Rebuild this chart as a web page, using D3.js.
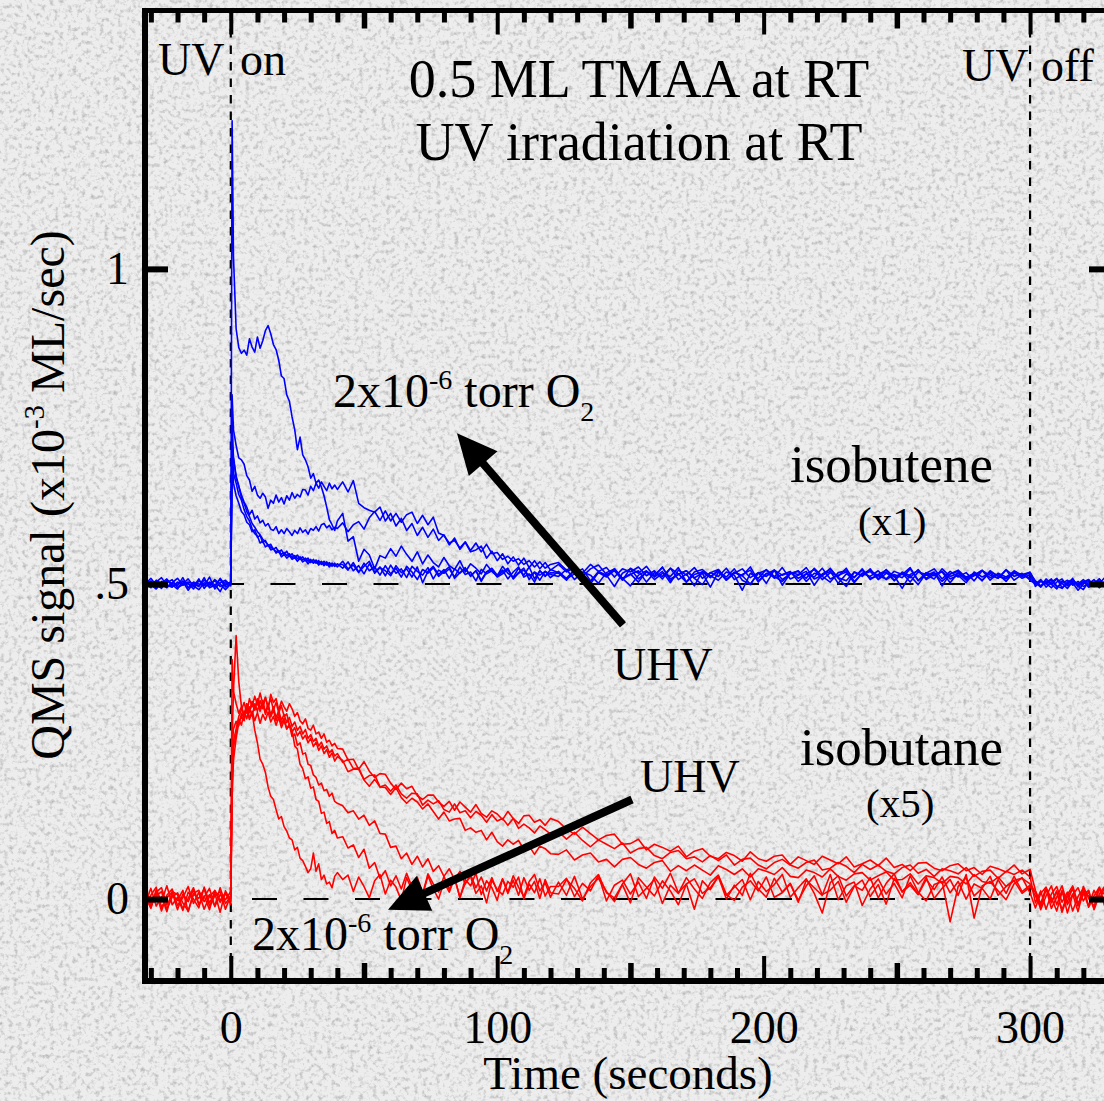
<!DOCTYPE html>
<html>
<head>
<meta charset="utf-8">
<script src="https://cdnjs.cloudflare.com/ajax/libs/d3/7.8.5/d3.min.js"></script>
<style>
  html, body { margin: 0; padding: 0; background: #e8e8e8; overflow: hidden; }
  svg { display: block; }
  text { font-family: "Liberation Serif", "Times New Roman", Times, serif; fill: #000; }
</style>
</head>
<body>
<svg id="chart" width="1104" height="1101"></svg>
<script>
// ---------------------------------------------------------------------------
// Sampling times (s) shared by every QMS run. UV lamp on at 0 s, off at 300 s.
// ---------------------------------------------------------------------------
const timeSec = [
  -32,-30,-28,-26,-24,-22,-20,-18,-16,-14,-12,-10,-8,-6,-4,-2,0,
  0.5,1,2,3,4,5,6,7,8,9,
  10,11,12,13,14,15,16,17,18,19,
  20,21,22,23,24,25,26,27,28,29,
  30,31,32,33,34,35,36,37,38,39,
  40,
  42,44,46,48,50,52,54,56,58,60,
  62,64,66,68,70,72,74,76,78,80,
  82,84,86,88,90,92,94,96,98,100,
  102,104,106,108,110,112,114,116,118,120,
  123,126,129,132,135,138,141,144,147,150,
  153,156,159,162,165,168,171,174,177,180,
  183,186,189,192,195,198,201,204,207,210,
  213,216,219,222,225,228,231,234,237,240,
  243,246,249,252,255,258,261,264,267,270,
  273,276,279,282,285,288,291,294,297,300,
  302,304,306,308,310,312,314,316,318,320,322,324,326,328,330
];

// Isobutene signal (x1), offset by +0.5; units 1e-3 ML/s
const isobuteneRunA = [ // 2x10^-6 torr O2
  .503,.497,.506,.500,.494,.502,.509,.498,.501,.492,
  .505,.499,.496,.507,.500,.491,.500,
  1.235,1.02,.905,.875,.866,.871,.863,.889,.876,.868,
  .892,.874,.886,.902,.910,.897,.880,.872,.855,.830,
  .826,.800,.790,.765,.745,.713,.733,.705,.697,.686,
  .668,.675,.660,.665,.654,.640,.622,.602,.594,.585,
  .600,
  .612,.568,.575,.536,.555,.546,.524,.545,.541,.556,
  .544,.560,.547,.536,.551,.532,.546,.534,.527,.542,
  .529,.523,.537,.519,.532,.525,.516,.531,.520,.513,
  .528,.517,.511,.525,.514,.527,.508,.521,.512,.523,
  .518,.509,.523,.512,.504,.520,.514,.496,.517,.524,
  .508,.519,.513,.527,.505,.516,.521,.509,.499,.518,
  .512,.525,.507,.515,.522,.503,.517,.511,.526,.508,
  .514,.520,.498,.516,.523,.510,.505,.519,.512,.524,
  .507,.517,.513,.493,.515,.521,.509,.518,.504,.516,
  .520,.508,.514,.522,.506,.517,.511,.519,.509,.515,
  .504,.496,.508,.500,.492,.505,.498,.509,.495,.503,.507,.496,.501,.510,.498
];
const isobuteneRunB = [
  .498,.505,.493,.501,.508,.496,.500,.504,.490,.502,
  .497,.506,.501,.495,.509,.498,.502,
  .800,.745,.720,.700,.697,.690,.672,.665,.647,.655,
  .641,.636,.644,.638,.620,.633,.628,.641,.630,.637,
  .627,.640,.633,.645,.636,.642,.638,.650,.649,.641,
  .655,.648,.660,.652,.662,.655,.648,.660,.651,.657,
  .650,
  .662,.646,.664,.628,.621,.617,.614,.622,.600,.612,
  .592,.604,.585,.596,.577,.590,.574,.587,.569,.578,
  .562,.573,.555,.566,.551,.554,.560,.541,.552,.537,
  .548,.532,.543,.530,.541,.526,.537,.524,.534,.522,
  .531,.519,.527,.512,.524,.530,.515,.521,.506,.525,
  .517,.528,.511,.520,.502,.522,.514,.526,.509,.518,
  .523,.507,.519,.513,.527,.505,.516,.522,.498,.517,
  .520,.509,.525,.512,.503,.518,.521,.510,.524,.507,
  .515,.522,.506,.519,.513,.499,.517,.524,.508,.520,
  .511,.518,.505,.521,.514,.509,.523,.512,.517,.506,
  .500,.507,.495,.503,.509,.494,.501,.505,.497,.491,.504,.499,.508,.496,.502
];
const isobuteneRunC = [
  .501,.494,.503,.510,.497,.499,.492,.505,.500,.496,
  .508,.493,.503,.499,.488,.504,.499,
  .760,.700,.672,.655,.641,.630,.622,.610,.617,.603,
  .608,.597,.601,.592,.596,.587,.585,.591,.580,.586,
  .580,.588,.583,.577,.585,.580,.589,.582,.586,.579,
  .588,.585,.591,.584,.594,.596,.589,.593,.586,.590,
  .588,
  .597,.583,.594,.599,.587,.605,.615,.601,.616,.600,
  .612,.598,.610,.614,.596,.609,.594,.606,.581,.577,
  .565,.569,.557,.567,.553,.565,.551,.563,.548,.550,
  .539,.544,.536,.540,.531,.537,.527,.535,.525,.531,
  .534,.522,.529,.517,.531,.520,.526,.511,.524,.519,
  .527,.513,.521,.508,.525,.516,.503,.519,.523,.512,
  .520,.506,.517,.524,.510,.518,.501,.522,.514,.519,
  .509,.516,.523,.507,.518,.512,.525,.504,.517,.521,
  .513,.508,.520,.515,.526,.506,.514,.519,.497,.516,
  .522,.510,.517,.505,.519,.513,.509,.521,.514,.510,
  .502,.495,.505,.499,.508,.501,.493,.504,.500,.507,.497,.503,.494,.501,.505
];
const isobuteneRunD = [
  .495,.502,.499,.493,.506,.501,.497,.510,.494,.503,
  .500,.497,.511,.492,.502,.506,.497,
  .720,.676,.660,.642,.633,.618,.607,.600,.588,.580,
  .576,.565,.568,.559,.562,.554,.556,.549,.552,.543,
  .547,.541,.545,.539,.542,.536,.541,.535,.538,.532,
  .537,.533,.536,.530,.535,.529,.533,.527,.532,.528,
  .531,
  .531,.522,.534,.519,.528,.536,.517,.526,.521,.513,
  .529,.518,.524,.511,.527,.502,.520,.528,.515,.523,
  .509,.524,.517,.526,.512,.521,.506,.519,.525,.514,
  .522,.508,.519,.527,.511,.516,.503,.521,.513,.518,
  .517,.506,.522,.511,.500,.519,.513,.524,.508,.515,
  .521,.503,.518,.512,.525,.507,.516,.497,.520,.513,
  .506,.519,.514,.490,.517,.509,.523,.512,.504,.518,
  .515,.526,.508,.514,.520,.501,.516,.511,.522,.509,
  .513,.519,.505,.517,.510,.523,.507,.515,.519,.502,
  .518,.511,.516,.506,.521,.512,.508,.517,.513,.519,
  .499,.505,.501,.494,.503,.508,.497,.502,.490,.500,.506,.498,.504,.495,.501
];
const isobuteneRunE = [
  .507,.499,.492,.504,.498,.495,.503,.500,.508,.497,
  .491,.502,.499,.505,.496,.500,.503,
  .700,.660,.640,.628,.615,.610,.598,.594,.583,.586,
  .574,.577,.566,.569,.560,.563,.555,.558,.550,.554,
  .547,.552,.544,.548,.541,.546,.539,.543,.537,.541,
  .534,.539,.533,.537,.531,.536,.530,.534,.528,.533,
  .527,
  .536,.524,.530,.518,.533,.521,.527,.514,.529,.516,
  .525,.511,.528,.519,.507,.523,.517,.526,.512,.520,
  .527,.509,.518,.524,.513,.521,.504,.519,.522,.511,
  .516,.523,.509,.518,.525,.507,.519,.514,.520,.510,
  .520,.508,.516,.524,.505,.518,.511,.522,.509,.497,
  .514,.521,.507,.517,.512,.526,.503,.515,.519,.510,
  .523,.506,.518,.513,.500,.517,.522,.509,.515,.520,
  .504,.516,.511,.525,.508,.514,.519,.502,.517,.512,
  .521,.507,.515,.510,.524,.505,.518,.513,.520,.508,
  .514,.502,.519,.511,.517,.509,.522,.506,.515,.518,
  .505,.497,.502,.508,.495,.501,.506,.498,.504,.496,.500,.507,.497,.503,.499
];
const isobuteneRunF = [ // UHV
  .500,.509,.498,.496,.502,.507,.494,.499,.503,.500,
  .496,.510,.494,.498,.507,.495,.500,
  .690,.700,.668,.655,.637,.628,.615,.607,.596,.590,
  .583,.578,.571,.567,.562,.558,.556,.551,.553,.547,
  .550,.545,.548,.542,.545,.540,.543,.538,.541,.536,
  .539,.534,.538,.533,.536,.531,.535,.530,.533,.529,
  .532,
  .525,.535,.521,.529,.516,.532,.519,.527,.513,.530,
  .517,.524,.510,.528,.520,.514,.526,.508,.522,.517,
  .524,.511,.527,.515,.519,.505,.523,.516,.521,.512,
  .519,.525,.508,.517,.522,.513,.518,.506,.520,.515,
  .512,.523,.507,.519,.514,.501,.518,.524,.509,.516,
  .503,.520,.513,.526,.508,.515,.521,.510,.517,.495,
  .519,.511,.524,.506,.499,.518,.512,.522,.507,.516,
  .521,.504,.517,.513,.525,.509,.496,.519,.514,.520,
  .508,.523,.511,.517,.503,.519,.515,.508,.524,.512,
  .517,.506,.513,.521,.510,.516,.504,.519,.512,.518,
  .496,.504,.500,.506,.497,.493,.503,.507,.498,.504,.495,.501,.508,.497,.503
];

// Isobutane signal (x5); units 1e-3 ML/s
const isobutaneRunA = [ // UHV
  .008,-.012,.015,-.004,.021,-.009,.003,-.018,.011,.000,
  -.014,.019,-.006,.009,-.021,.013,-.003,
  .200,.250,.270,.290,.300,.312,.295,.318,.305,.322,
  .308,.327,.310,.320,.302,.325,.312,.318,.300,.314,
  .305,.298,.310,.302,.290,.296,.283,.278,.286,.271,
  .268,.276,.262,.265,.255,.262,.249,.252,.243,.247,
  .239,
  .238,.221,.222,.206,.218,.203,.193,.199,.198,.184,
  .174,.184,.175,.179,.164,.158,.165,.165,.154,.147,
  .155,.141,.154,.146,.138,.150,.136,.130,.140,.135,
  .126,.139,.128,.120,.132,.133,.122,.126,.117,.128,
  .123,.111,.103,.114,.104,.094,.101,.103,.087,.088,
  .095,.078,.087,.082,.076,.084,.067,.076,.080,.068,
  .064,.074,.069,.060,.075,.064,.060,.068,.070,.055,
  .067,.061,.055,.068,.062,.056,.067,.051,.056,.062,
  .053,.065,.050,.055,.045,.057,.058,.049,.045,.053,
  .056,.045,.050,.039,.052,.048,.043,.054,.040,.047,
  .014,-.010,.018,-.004,.011,-.017,.007,.021,-.008,.012,-.013,.005,.019,-.009,.009
];
const isobutaneRunB = [
  -.006,.017,-.011,.004,-.020,.012,.007,-.015,.001,.018,
  -.008,.005,-.017,.014,-.002,.010,-.009,
  .160,.220,.255,.280,.290,.283,.305,.296,.312,.300,
  .318,.302,.315,.296,.310,.292,.305,.288,.299,.284,
  .293,.280,.288,.274,.281,.268,.274,.262,.269,.255,
  .261,.250,.255,.243,.249,.238,.243,.232,.237,.227,
  .231,
  .217,.222,.207,.208,.190,.196,.197,.178,.181,.171,
  .181,.167,.160,.168,.167,.149,.157,.151,.156,.142,
  .138,.151,.137,.140,.129,.139,.133,.122,.134,.124,
  .128,.117,.128,.112,.119,.113,.105,.116,.110,.103,
  .107,.095,.106,.093,.083,.094,.087,.080,.089,.073,
  .080,.082,.069,.064,.074,.077,.064,.067,.059,.069,
  .061,.070,.054,.063,.065,.054,.048,.058,.063,.054,
  .049,.058,.062,.046,.049,.058,.052,.042,.055,.047,
  .054,.044,.040,.050,.054,.041,.047,.036,.048,.045,
  .040,.050,.036,.044,.046,.033,.044,.039,.046,.035,
  -.006,.013,-.016,.008,.020,-.005,.011,-.019,.004,.017,-.011,.014,-.003,.019,-.012
];
const isobutaneRunC = [
  .014,-.003,.009,-.019,.006,.016,-.010,.002,.020,-.007,
  .011,-.016,.004,.013,-.005,.008,.001,
  .240,.270,.282,.275,.295,.288,.302,.285,.298,.283,
  .296,.279,.293,.284,.297,.281,.290,.276,.288,.272,
  .283,.270,.278,.265,.272,.259,.266,.254,.260,.248,
  .255,.242,.249,.236,.243,.231,.237,.225,.232,.219,
  .226,
  .220,.202,.206,.206,.189,.179,.190,.178,.177,.166,
  .177,.161,.152,.160,.154,.143,.151,.139,.127,.138,
  .124,.127,.128,.109,.113,.106,.109,.094,.106,.091,
  .084,.094,.087,.093,.079,.084,.071,.084,.080,.072,
  .071,.078,.062,.070,.073,.059,.063,.051,.063,.066,
  .055,.049,.058,.061,.044,.053,.045,.054,.046,.038,
  .053,.047,.039,.048,.035,.048,.044,.039,.050,.036,
  .034,.046,.042,.035,.048,.036,.030,.040,.042,.030,
  .037,.043,.030,.031,.040,.024,.037,.034,.025,.036,
  .034,.024,.039,.028,.025,.035,.020,.030,.033,.024,
  .011,-.017,.005,.021,-.009,.014,-.022,.007,.018,-.003,.012,-.015,.008,.020,-.006
];
const isobutaneRunD = [
  -.010,.006,.019,-.013,.002,.011,-.017,.008,-.004,.015,
  -.009,.003,.017,-.012,.007,-.001,.012,
  .180,.240,.262,.285,.276,.298,.286,.305,.290,.310,
  .298,.315,.302,.320,.306,.318,.300,.312,.296,.307,
  .290,.294,.276,.268,.243,.238,.214,.207,.191,.194,
  .176,.178,.158,.155,.136,.138,.120,.123,.104,.109,
  .097,
  .099,.081,.086,.066,.079,.049,.058,.033,.045,.021,
  .037,.016,.041,.019,.035,.008,.040,.024,.011,.036,
  .015,.034,.002,.031,.021,.041,.007,.029,.018,-.002,
  .032,.011,.037,.019,.004,.028,.039,.013,.026,.003,
  .027,.006,.036,.000,.020,.033,.012,-.004,.024,.040,
  .004,.017,.031,-.007,.022,.009,.034,.016,.001,.026,
  .038,.007,-.002,.019,.029,.013,.035,.003,.010,.024,
  -.005,.030,.018,.006,.039,-.001,.021,.027,-.010,.016,
  .032,.008,.025,.002,.037,.011,-.003,.023,.028,-.036,
  .020,.034,.005,.017,.000,.031,.009,.036,.012,.022,
  .005,-.013,.016,.002,-.019,.011,-.004,.018,-.010,.007,.014,-.017,.006,-.002,.013
];
const isobutaneRunE = [
  .017,-.008,.005,.012,-.016,.003,.010,-.006,-.019,.009,
  .014,-.004,.007,-.011,.018,-.007,.004,
  .380,.330,.310,.295,.305,.288,.310,.296,.314,.300,
  .316,.298,.310,.293,.306,.289,.300,.283,.294,.278,
  .287,.270,.276,.258,.262,.244,.248,.230,.232,.214,
  .212,.197,.193,.181,.184,.172,.174,.163,.168,.155,
  .152,
  .148,.137,.140,.127,.133,.117,.124,.104,.103,.082,
  .084,.064,.073,.055,.068,.051,.064,.044,.053,.036,
  .048,.031,.044,.024,.039,.018,.035,.013,.034,.012,
  .032,.009,.030,.006,.034,.014,.028,.001,.031,.010,
  .008,.031,.017,-.003,.026,.039,.010,.002,.023,-.006,
  .034,.019,.005,.029,.013,-.009,.024,.032,.009,.018,
  .036,.000,.022,.006,.041,.016,.003,.033,.011,.025,
  -.002,.021,.037,.007,.014,.028,-.005,.020,.030,.004,
  .023,-.008,.033,.012,.026,.008,.035,.001,.017,.031,
  .006,.039,-.030,.021,.028,.013,-.001,.024,.034,.010,
  -.014,.009,.019,-.006,.013,-.021,.004,.016,-.011,.020,.001,-.012,.017,.007,-.005
];
const isobutaneRunF = [ // 2x10^-6 torr O2
  .003,-.015,.011,.018,-.009,.006,-.002,.014,-.020,.008,
  .001,.016,-.011,.005,.012,-.016,.006,
  .250,.330,.418,.345,.305,.292,.310,.287,.296,.268,
  .248,.222,.214,.201,.178,.163,.158,.142,.127,.131,
  .115,.108,.097,.094,.078,.082,.065,.061,.052,.042,
  .048,.073,.044,.056,.031,.038,.024,.027,.018,.036,
  .042,
  .031,.038,.012,.035,.020,.002,.029,.039,.008,.030,
  .019,-.002,.034,.014,.028,.006,.037,.016,.000,.027,
  .011,.033,.003,.025,.036,.009,.021,-.006,.030,.015,
  .007,.028,.019,.035,.000,.024,.010,.032,.005,.020,
  .020,.033,.004,.025,.013,.038,-.003,.022,.030,.008,
  .027,.001,.035,.017,.041,.010,.024,-.016,.029,.015,
  .036,.006,.019,.031,-.001,.028,.012,.023,.039,.003,
  .018,.032,.009,-.022,.026,.037,.005,.021,.014,.034,
  .002,.025,.040,.011,.022,.007,.031,.015,.035,.010,
  .028,.000,.024,.017,.036,.006,.020,.029,.009,.019,
  .012,-.007,.017,-.015,.003,.021,-.009,.008,-.020,.014,.005,-.004,.018,-.011,.007
];

const isobuteneRuns = [isobuteneRunA, isobuteneRunB, isobuteneRunC, isobuteneRunD, isobuteneRunE, isobuteneRunF];
const isobutaneRuns = [isobutaneRunA, isobutaneRunB, isobutaneRunC, isobutaneRunD, isobutaneRunE, isobutaneRunF];

// Axis ticks
const xMajorTicks = [0, 100, 200, 300];
const xMidTicks = [50, 150, 250];
const xMinorTicks = [-30,-20,-10,10,20,30,40,60,70,80,90,110,120,130,140,160,170,180,190,
                     210,220,230,240,260,270,280,290,310,320,330];
const yTicks = [0, 0.5, 1];
const yTickLabels = ["0", ".5", "1"];

// Reference levels and UV on/off times
const baselines = [0.5, 0];
const uvEvents = [0, 300];

// Arrows: tail -> head, in (time, signal) units
const arrows = [
  { from: [147.2, 0.435], to: [84.9, 0.739] },
  { from: [150.6, 0.158], to: [59.0, -0.017] }
];

// ---------------------------------------------------------------------------
const W = 1104, H = 1101;
const plot = { left: 145, right: 1110, top: 10.5, bottom: 981 };
const svg = d3.select("#chart");

const x = d3.scaleLinear().domain([-32.2, 330]).range([plot.left, plot.right]);
const y = d3.scaleLinear().domain([-0.13, 1.41]).range([plot.bottom, plot.top]);

// Stone-grain backdrop
const defs = svg.append("defs");
const grain = defs.append("filter").attr("id", "granite")
  .attr("filterUnits", "userSpaceOnUse")
  .attr("x", 0).attr("y", 0).attr("width", W).attr("height", H);
grain.append("feTurbulence").attr("type", "fractalNoise")
  .attr("baseFrequency", 0.22).attr("numOctaves", 3).attr("seed", 5).attr("result", "t");
grain.append("feColorMatrix").attr("in", "t").attr("type", "matrix")
  .attr("values", "0 0 0 0 0.45  0 0 0 0 0.45  0 0 0 0 0.45  -2.2 0 0 0 1.13");
defs.append("clipPath").attr("id", "plotClip").append("rect")
  .attr("x", plot.left + 3).attr("y", plot.top + 2.5)
  .attr("width", plot.right - plot.left - 6).attr("height", plot.bottom - plot.top - 5.5);

svg.append("rect").attr("width", W).attr("height", H).attr("fill", "#ededed");
svg.append("rect").attr("width", W).attr("height", H).attr("fill", "#fff").attr("filter", "url(#granite)");

// Dashed reference lines
const guides = svg.append("g").attr("stroke", "#000").attr("fill", "none");
guides.selectAll("line.base").data(baselines).join("line")
  .attr("x1", x(0)).attr("x2", x(300))
  .attr("y1", d => y(d)).attr("y2", d => y(d))
  .attr("stroke-width", 2)
  .attr("stroke-dasharray", "25,26.5")
  .attr("stroke-dashoffset", (d, i) => i === 0 ? 11.8 : 30.3);
guides.selectAll("line.uv").data(uvEvents).join("line")
  .attr("x1", d => x(d)).attr("x2", d => x(d))
  .attr("y1", plot.top + 2).attr("y2", plot.bottom - 3)
  .attr("stroke-width", 2.2)
  .attr("stroke-dasharray", "8.5,8");

// QMS traces
const line = d3.line().x(d => x(d[0])).y(d => y(d[1]));
const dataLayer = svg.append("g").attr("clip-path", "url(#plotClip)")
  .attr("fill", "none").attr("stroke-width", 1.6).attr("stroke-linejoin", "round");
function drawRuns(runs, color) {
  runs.forEach(run => {
    const pts = run.slice(0, timeSec.length).map((v, i) => [timeSec[i], v]);
    dataLayer.append("path").datum(pts).attr("d", line).attr("stroke", color);
  });
}
drawRuns(isobutaneRuns, "#ff0000");
drawRuns(isobuteneRuns, "#0000ff");

// Arrows
const arrowLayer = svg.append("g");
arrows.forEach(a => {
  const x0 = x(a.from[0]), y0 = y(a.from[1]), x1 = x(a.to[0]), y1 = y(a.to[1]);
  const dx = x1 - x0, dy = y1 - y0, len = Math.hypot(dx, dy);
  const ux = dx / len, uy = dy / len;
  const head = 40, half = 19;
  const bx = x1 - ux * head, by = y1 - uy * head;
  arrowLayer.append("line")
    .attr("x1", x0).attr("y1", y0).attr("x2", bx + ux * 4).attr("y2", by + uy * 4)
    .attr("stroke", "#000").attr("stroke-width", 8);
  arrowLayer.append("polygon")
    .attr("points", [[x1, y1], [bx - uy * half, by + ux * half], [bx + uy * half, by - ux * half]].map(p => p.join(",")).join(" "))
    .attr("fill", "#000");
});

// Axes with inward ticks on all four sides
function styleAxis(g, width) {
  g.select(".domain").remove();
  g.selectAll(".tick line").attr("stroke", "#000").attr("stroke-width", width);
  g.attr("font-family", null).attr("font-size", 46);
}
function xTickRow(axisFn, yPos, values, size, width, withLabels) {
  const ax = axisFn(x).tickValues(values).tickSizeInner(-size).tickSizeOuter(0)
    .tickPadding(29).tickFormat(withLabels ? d3.format("d") : "");
  const g = svg.append("g").attr("transform", `translate(0,${yPos})`).call(ax);
  styleAxis(g, width);
  g.selectAll("text").attr("fill", "#000");
}
xTickRow(d3.axisBottom, plot.bottom, xMinorTicks, 13, 5, false);
xTickRow(d3.axisBottom, plot.bottom, xMidTicks, 18, 5.5, false);
xTickRow(d3.axisBottom, plot.bottom, xMajorTicks, 25, 4, true);
xTickRow(d3.axisTop, plot.top, xMinorTicks, 12, 5, false);
xTickRow(d3.axisTop, plot.top, xMidTicks, 18, 5.5, false);
xTickRow(d3.axisTop, plot.top, xMajorTicks, 24, 4, false);

const yLeft = svg.append("g").attr("transform", `translate(${plot.left},0)`)
  .call(d3.axisLeft(y).tickValues(yTicks).tickFormat((d, i) => yTickLabels[i])
    .tickSizeInner(-23).tickSizeOuter(0).tickPadding(16));
styleAxis(yLeft, 6);
yLeft.selectAll("text").attr("fill", "#000");
const yRight = svg.append("g").attr("transform", `translate(${plot.right},0)`)
  .call(d3.axisRight(y).tickValues(yTicks).tickFormat("").tickSizeInner(-21).tickSizeOuter(0));
styleAxis(yRight, 6);

// Frame
const frame = svg.append("g").attr("stroke", "#000");
frame.append("line").attr("x1", plot.left).attr("x2", plot.left)
  .attr("y1", plot.top - 2.5).attr("y2", plot.bottom + 3).attr("stroke-width", 6);
frame.append("line").attr("x1", plot.left - 3).attr("x2", plot.right + 3)
  .attr("y1", plot.top).attr("y2", plot.top).attr("stroke-width", 5);
frame.append("line").attr("x1", plot.left - 3).attr("x2", plot.right + 3)
  .attr("y1", plot.bottom).attr("y2", plot.bottom).attr("stroke-width", 6);
frame.append("line").attr("x1", plot.right).attr("x2", plot.right)
  .attr("y1", plot.top - 2.5).attr("y2", plot.bottom + 3).attr("stroke-width", 6);

// Text annotations
const txt = svg.append("g");
function label(xp, yp, size, str, anchor) {
  return txt.append("text").attr("x", xp).attr("y", yp).attr("font-size", size)
    .attr("text-anchor", anchor || "start").text(str);
}
label(639, 97, 54, "0.5 ML TMAA at RT", "middle");
label(639, 160, 54, "UV irradiation at RT", "middle");
label(158, 75, 46, "UV");
label(240, 75, 46, "on");
label(962, 81, 46, "UV");
label(1041, 81, 46, "off");
label(790, 482, 53, "isobutene");
label(858, 535, 41, "(x1)");
label(800, 765, 53, "isobutane");
label(866, 817, 41, "(x5)");
label(613, 680, 46, "UHV");
label(640, 792, 46, "UHV");
label(628, 1089, 47, "Time (seconds)", "middle");

function oxygenLabel(xp, yp) {
  const t = txt.append("text").attr("x", xp).attr("y", yp).attr("font-size", 48);
  t.append("tspan").text("2x10");
  t.append("tspan").attr("font-size", 28).attr("dy", -18).text("-6");
  t.append("tspan").attr("dy", 18).text(" torr O");
  t.append("tspan").attr("font-size", 28).attr("dy", 14).text("2");
}
oxygenLabel(333, 407);
oxygenLabel(252, 950);

const yLab = txt.append("text").attr("transform", "translate(64,495) rotate(-90)")
  .attr("text-anchor", "middle").attr("font-size", 48);
yLab.append("tspan").text("QMS signal (x10");
yLab.append("tspan").attr("font-size", 29).attr("dy", -20).text("-3");
yLab.append("tspan").attr("dy", 20).text(" ML/sec)");
</script>
</body>
</html>
